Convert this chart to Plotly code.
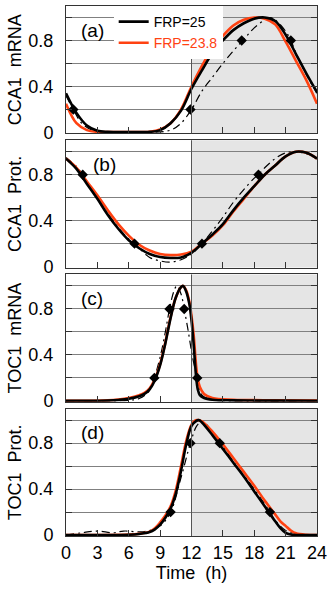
import plotly.graph_objects as go
from plotly.subplots import make_subplots

# ---- panel (a) CCA1 mRNA
a_t = [0, 1, 2, 3, 4, 6, 8, 9, 10, 11, 12, 13, 14, 15, 16, 17, 18, 19, 20, 21, 22, 23, 24]
a_frp25 = [0.34, 0.17, 0.06, 0.015, 0.005, 0.003, 0.005, 0.02, 0.08, 0.19, 0.38, 0.54, 0.69, 0.80, 0.89, 0.95, 0.99, 1.0, 0.97, 0.85, 0.68, 0.51, 0.35]
a_frp238 = [0.25, 0.08, 0.02, 0.005, 0.003, 0.003, 0.006, 0.025, 0.08, 0.2, 0.4, 0.58, 0.73, 0.84, 0.93, 0.98, 1.0, 0.99, 0.94, 0.79, 0.62, 0.45, 0.25]
a_exp_t = [0, 0.7, 1.5, 2.5, 4, 6, 8, 10, 11, 12, 13, 14, 15, 16, 17, 18, 19, 19.5, 20, 21, 21.5, 22, 23, 24]
a_exp = [0.32, 0.2, 0.08, 0.02, 0.0, 0.0, 0.0, 0.02, 0.08, 0.2, 0.36, 0.48, 0.6, 0.71, 0.81, 0.91, 0.98, 1.0, 0.98, 0.88, 0.8, 0.69, 0.5, 0.34]
a_dia_t = [0.7, 11.9, 16.8, 21.5]
a_dia = [0.2, 0.2, 0.8, 0.8]

# ---- panel (b) CCA1 protein
b_t = [0, 1, 2, 3, 4, 5, 6, 7, 8, 9, 10, 11, 12, 13, 14, 15, 16, 17, 18, 19, 20, 21, 22, 23, 24]
b_frp25 = [0.94, 0.85, 0.72, 0.59, 0.45, 0.33, 0.23, 0.16, 0.11, 0.083, 0.075, 0.08, 0.12, 0.2, 0.28, 0.37, 0.49, 0.6, 0.7, 0.8, 0.88, 0.96, 1.0, 0.99, 0.94]
b_frp238 = [0.94, 0.86, 0.74, 0.62, 0.49, 0.37, 0.27, 0.19, 0.14, 0.11, 0.10, 0.105, 0.13, 0.2, 0.27, 0.36, 0.48, 0.59, 0.7, 0.8, 0.88, 0.96, 1.0, 0.99, 0.94]
b_exp_t = [0, 1, 1.6, 2, 3, 4, 5, 6, 6.55, 7, 8, 9, 10, 11, 12, 13, 14, 15, 16, 17, 18, 18.4, 19, 20, 21, 22, 23, 24]
b_exp = [0.95, 0.87, 0.8, 0.74, 0.6, 0.46, 0.34, 0.24, 0.2, 0.16, 0.08, 0.05, 0.04, 0.06, 0.11, 0.2, 0.31, 0.43, 0.56, 0.67, 0.77, 0.8, 0.86, 0.94, 0.99, 1.0, 0.98, 0.94]
b_dia_t = [1.6, 6.55, 13.0, 18.4]
b_dia = [0.8, 0.2, 0.2, 0.8]

# ---- panel (c) TOC1 mRNA
c_t = [0, 2, 4, 5, 6, 7, 7.5, 8, 8.5, 9, 9.5, 10, 10.5, 11, 11.2, 11.5, 11.8, 12.0, 12.2, 12.45, 12.6, 12.8, 13.2, 14, 16, 20, 24]
c_frp25 = [0.0, 0.0, 0.003, 0.008, 0.018, 0.04, 0.06, 0.1, 0.18, 0.31, 0.5, 0.72, 0.9, 0.99, 1.0, 0.95, 0.84, 0.7, 0.5, 0.2, 0.1, 0.05, 0.025, 0.01, 0.004, 0.002, 0.0]
c_frp238 = [0.0, 0.0, 0.005, 0.012, 0.025, 0.05, 0.07, 0.11, 0.19, 0.32, 0.51, 0.73, 0.9, 0.99, 1.0, 0.96, 0.86, 0.74, 0.58, 0.3, 0.19, 0.12, 0.06, 0.025, 0.01, 0.005, 0.003]
c_exp_t = [0, 4, 6, 7, 8, 8.45, 9, 9.5, 9.9, 10.3, 10.6, 11.0, 11.3, 11.7, 12.1, 12.55, 13, 14, 16, 24]
c_exp = [0.0, 0.0, 0.005, 0.02, 0.09, 0.2, 0.38, 0.6, 0.8, 0.95, 1.0, 0.93, 0.8, 0.6, 0.38, 0.2, 0.05, 0.01, 0.0, 0.0]
c_dia_t = [8.45, 9.9, 11.3, 12.55]
c_dia = [0.2, 0.8, 0.8, 0.2]

# ---- panel (d) TOC1 protein
d_t = [0, 3, 6, 7, 8, 8.5, 9, 9.5, 10, 10.5, 11, 11.5, 12, 12.4, 12.7, 13, 14, 15, 16, 17, 18, 19, 20, 20.5, 21, 21.5, 22, 23, 24]
d_frp25 = [0.0, 0.0, 0.003, 0.01, 0.026, 0.05, 0.09, 0.15, 0.23, 0.36, 0.56, 0.79, 0.95, 0.99, 1.0, 0.98, 0.87, 0.75, 0.63, 0.51, 0.38, 0.25, 0.12, 0.06, 0.02, 0.005, 0.0, 0.0, 0.0]
d_frp238 = [0.0, 0.0, 0.004, 0.012, 0.03, 0.06, 0.11, 0.17, 0.25, 0.39, 0.6, 0.82, 0.96, 1.0, 1.0, 0.99, 0.9, 0.79, 0.67, 0.55, 0.43, 0.3, 0.18, 0.12, 0.08, 0.04, 0.015, 0.002, 0.0]
d_exp_t = [0, 1.5, 3, 4.5, 5.5, 7.5, 9, 10, 11, 11.9, 12.5, 13, 14, 14.7, 16, 17, 18, 19, 19.5, 20, 21, 22, 23, 24]
d_exp = [0.0, 0.02, 0.035, 0.02, 0.035, 0.03, 0.08, 0.2, 0.5, 0.8, 0.95, 0.99, 0.9, 0.81, 0.64, 0.52, 0.4, 0.27, 0.2, 0.13, 0.04, 0.01, 0.0, 0.0]
d_dia_t = [10.0, 11.9, 14.7, 19.5]
d_dia = [0.2, 0.8, 0.8, 0.2]

panels = [
    ("(a)", "CCA1  mRNA", a_t, a_frp25, a_frp238, a_exp_t, a_exp, a_dia_t, a_dia, 2.5),
    ("(b)", "CCA1  Prot.", b_t, b_frp25, b_frp238, b_exp_t, b_exp, b_dia_t, b_dia, 3.7),
    ("(c)", "TOC1  mRNA", c_t, c_frp25, c_frp238, c_exp_t, c_exp, c_dia_t, c_dia, 2.5),
    ("(d)", "TOC1  Prot.", d_t, d_frp25, d_frp238, d_exp_t, d_exp, d_dia_t, d_dia, 2.5),
]

x_ticks = list(range(0, 25, 3))
y_ticks = [0, 0.2, 0.4, 0.6, 0.8, 1.0]
y_ticktext = ["0", "", "0.4", "", "0.8", ""]

BLACK = "#000000"
ORANGE = "#ff4212"
FONT = "Liberation Sans"

fig = make_subplots(rows=4, cols=1, shared_xaxes=True, vertical_spacing=0.013)

for i, (lab, ytitle, t, y25, y238, et, ey, dt, dy, labx) in enumerate(panels):
    row = i + 1
    first = row == 1
    fig.add_trace(go.Scatter(x=et, y=ey, mode="lines", line=dict(color=BLACK, width=1.2, dash="8px,4px,2px,4px", shape="spline"),
                             showlegend=False, hoverinfo="skip"), row=row, col=1)
    fig.add_trace(go.Scatter(x=t, y=y238, mode="lines", line=dict(color=ORANGE, width=2.6, shape="spline"),
                             name='<span style="color:%s">FRP=23.8</span>' % ORANGE, legendrank=2, showlegend=first), row=row, col=1)
    fig.add_trace(go.Scatter(x=t, y=y25, mode="lines", line=dict(color=BLACK, width=2.6, shape="spline"),
                             name="FRP=25", legendrank=1, showlegend=first), row=row, col=1)
    fig.add_trace(go.Scatter(x=dt, y=dy, mode="markers", marker=dict(symbol="diamond", size=8, color=BLACK),
                             showlegend=False, hoverinfo="skip"), row=row, col=1)
    fig.add_annotation(x=labx, y=0.89, text=lab, showarrow=False, font=dict(size=19, family=FONT, color=BLACK),
                       row=row, col=1)
    fig.update_yaxes(title_text=ytitle, row=row, col=1)

fig.add_vrect(x0=12, x1=24, fillcolor="#e5e5e5", line_width=0, layer="below", row="all", col=1)
fig.add_vline(x=12, line_color="#555555", line_width=1, row="all", col=1)

fig.update_xaxes(range=[0, 24], tickvals=x_ticks, ticks="inside", ticklen=6, tickcolor="#333",
                 showgrid=False, showline=True, linecolor="#333", linewidth=1, mirror=True,
                 zeroline=False, tickfont=dict(size=18, family=FONT, color=BLACK))
fig.update_xaxes(title_text="Time  (h)", title_font=dict(size=18, family=FONT, color=BLACK), title_standoff=4, row=4, col=1)
fig.update_yaxes(range=[-0.008, 1.1], tickvals=y_ticks, ticktext=y_ticktext, ticks="inside", ticklen=6,
                 tickcolor="#333", showgrid=True, gridcolor="#808080", gridwidth=1,
                 showline=True, linecolor="#333", linewidth=1, mirror="ticks", zeroline=False,
                 ticklabelstandoff=8, tickfont=dict(size=18, family=FONT, color=BLACK),
                 title_font=dict(size=18, family=FONT, color=BLACK), title_standoff=2)

fig.update_layout(
    width=332, height=593,
    margin=dict(l=66, r=13, t=5, b=57),
    plot_bgcolor="white", paper_bgcolor="white",
    showlegend=True,
    legend=dict(x=0.19, y=1.0, xanchor="left", yanchor="top", bgcolor="white", borderwidth=0,
                font=dict(size=14, family=FONT, color=BLACK), itemwidth=30,
                tracegroupgap=0, traceorder="normal"),
)

fig.write_html("out.html", config={"displayModeBar": False},
               post_script="document.body.style.margin='0';")
